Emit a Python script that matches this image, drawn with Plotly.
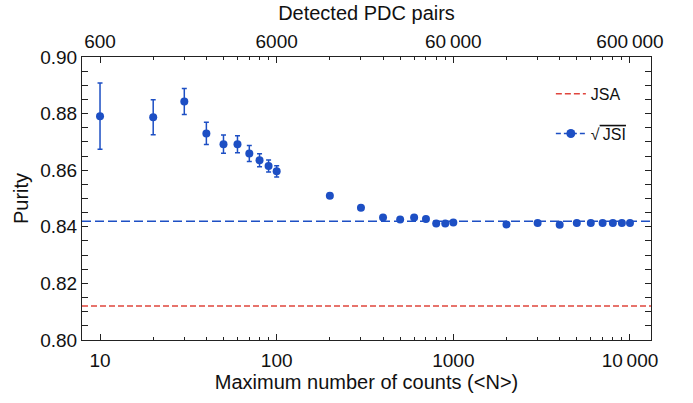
import plotly.graph_objects as go

# ---- data ----
max_counts = [10, 20, 30, 40, 50, 60, 70, 80, 90, 100, 200, 300, 400, 500, 600, 700,
              800, 900, 1000, 2000, 3000, 4000, 5000, 6000, 7000, 8000, 9000, 10000]
purity = [0.8791, 0.8787, 0.8843, 0.8730, 0.8692, 0.8692, 0.8659, 0.8635, 0.8615, 0.8596,
          0.8510, 0.8467, 0.8433, 0.8426, 0.8433, 0.8428, 0.8412, 0.8412, 0.8415,
          0.8408, 0.8413, 0.8407, 0.8413, 0.8413, 0.8413, 0.8413, 0.8413, 0.8413]
purity_err = [0.0117, 0.0062, 0.0046, 0.0039, 0.0032, 0.0030, 0.0028, 0.0023, 0.0021, 0.0020,
              0.0008, 0.0006, 0.0003, 0.0003, 0.0003, 0.0003, 0.0003, 0.0003, 0.0003,
              0.0002, 0.0002, 0.0002, 0.0002, 0.0002, 0.0002, 0.0002, 0.0002, 0.0002]
jsa_purity = 0.812
jsi_purity = 0.842
pairs_per_count = 60
bottom_ticks = [10, 100, 1000, 10000]


def fmt(v):
    s = f"{v:d}"
    if v >= 10000:
        s = f"{v:,}".replace(",", "\u2009")
    return s


bottom_ticktext = [fmt(v) for v in bottom_ticks]
top_ticktext = [fmt(v * pairs_per_count) for v in bottom_ticks]

BLUE = "#1d4fc4"
RED = "#e0453d"
FONT = "Liberation Sans, Arial"
x_range = [0.898, 4.119]

minor_vals = [m * d for d in (10, 100, 1000) for m in range(2, 10)]

fig = go.Figure()

fig.add_trace(go.Scatter(
    x=[10 ** x_range[0], 10 ** x_range[1]], y=[jsa_purity, jsa_purity],
    mode="lines", line=dict(color=RED, width=1.5, dash="6px,3px"),
    name="JSA", legendgroup="a", hoverinfo="skip"))

fig.add_trace(go.Scatter(
    x=[10 ** x_range[0], 10 ** x_range[1]], y=[jsi_purity, jsi_purity],
    mode="lines", line=dict(color=BLUE, width=1.5, dash="9px,4px"),
    showlegend=False, hoverinfo="skip"))

fig.add_trace(go.Scatter(
    x=max_counts, y=purity, mode="markers",
    marker=dict(color=BLUE, size=8),
    error_y=dict(type="data", array=purity_err, color=BLUE, thickness=1.5, width=2.5),
    showlegend=False))

# legend entry for sqrt(JSI): marker + dashed line
fig.add_trace(go.Scatter(
    x=[None], y=[None], mode="lines+markers",
    line=dict(color=BLUE, width=1.5, dash="5px,3px"),
    marker=dict(color=BLUE, size=9),
    name="√<span style='text-decoration:overline'>\u2009JSI</span>",
    legendgroup="b"))

axis_common = dict(showline=True, linecolor="#222", linewidth=1, showgrid=False,
                   zeroline=False, ticks="inside", tickcolor="#222", ticklen=6,
                   tickfont=dict(family=FONT, size=19, color="#111"))
minor_x = dict(tickmode="array", tickvals=minor_vals, ticks="inside",
               ticklen=3, tickcolor="#222", showgrid=False)

fig.update_layout(
    width=693, height=403,
    margin=dict(l=82, r=42, t=57, b=63),
    plot_bgcolor="white", paper_bgcolor="white",
    font=dict(family=FONT, size=16, color="#111"),
    xaxis=dict(type="log", range=x_range, tickmode="array", tickvals=bottom_ticks,
               ticktext=bottom_ticktext, minor=minor_x, ticklabelstandoff=3,
               title=dict(text="Maximum number of counts (&lt;N&gt;)", font=dict(size=20),
                          standoff=0),
               **axis_common),
    xaxis2=dict(type="log", range=x_range, overlaying="x", side="top", anchor="y",
                tickmode="array", tickvals=bottom_ticks, ticktext=top_ticktext,
                minor=minor_x,
                title=dict(text="Detected PDC pairs", font=dict(size=20), standoff=5),
                **axis_common),
    yaxis=dict(range=[0.80, 0.90], dtick=0.02, tickformat=".2f", mirror="allticks",
               minor=dict(dtick=0.005, ticks="inside", ticklen=3, tickcolor="#222",
                          showgrid=False),
               title=dict(text="Purity", font=dict(size=20), standoff=6),
               **axis_common),
    legend=dict(x=0.824, y=0.93, xanchor="left", yanchor="top", bgcolor="rgba(0,0,0,0)",
                font=dict(size=16), tracegroupgap=16, traceorder="grouped"),
    showlegend=True,
)

# dummy trace to activate xaxis2
fig.add_trace(go.Scatter(x=[10], y=[None], xaxis="x2", showlegend=False, hoverinfo="skip"))

fig.write_html("out.html")
